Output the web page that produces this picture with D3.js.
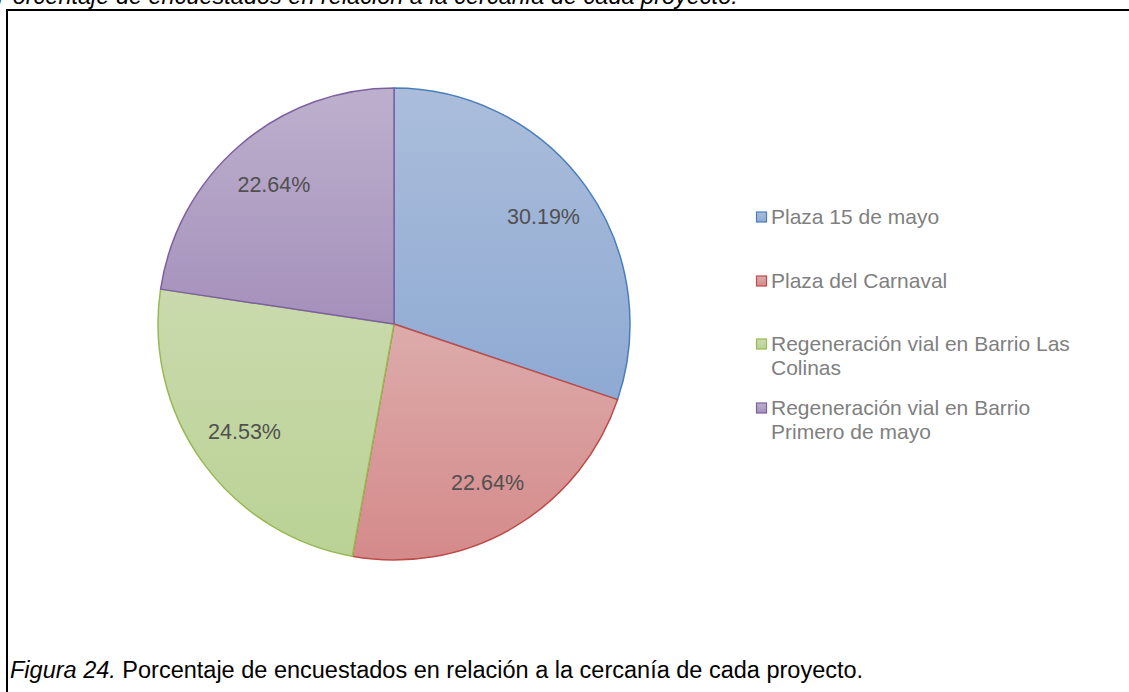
<!DOCTYPE html>
<html>
<head>
<meta charset="utf-8">
<script src="https://cdn.jsdelivr.net/npm/d3@7"></script>
<style>
  body { margin: 0; background: #fff; }
  svg text { font-family: "Liberation Sans", Arial, sans-serif; }
</style>
</head>
<body>
<div id="chart"></div>
<script>
// data
var categories = ["Plaza 15 de mayo", "Plaza del Carnaval", "Regeneración vial en Barrio Las Colinas", "Regeneración vial en Barrio Primero de mayo"];
var values = [30.19, 22.64, 24.53, 22.64];
var legendLines = [["Plaza 15 de mayo"], ["Plaza del Carnaval"], ["Regeneración vial en Barrio Las", "Colinas"], ["Regeneración vial en Barrio", "Primero de mayo"]];

var colorsTop = ["#abbddb", "#ddabab", "#cadaad", "#bdb0cd"];
var colorsBottom = ["#8eaad3", "#d58a8a", "#bad295", "#a590bb"];
var strokes = ["#4a7ebb", "#be4b48", "#98b954", "#7d60a0"];

var width = 1129, height = 692;
var cx = 394, cy = 324, radius = 236;

var svg = d3.select("#chart").append("svg")
  .attr("width", width)
  .attr("height", height);

// gradients, one for each slice
var defs = svg.append("defs");
categories.forEach(function(c, i) {
  var g = defs.append("linearGradient")
    .attr("id", "grad" + i)
    .attr("x1", 0).attr("y1", 0).attr("x2", 0).attr("y2", 1);
  g.append("stop").attr("offset", "0%").attr("stop-color", colorsTop[i]);
  g.append("stop").attr("offset", "100%").attr("stop-color", colorsBottom[i]);
});

// title above the frame (cut off at the top, like the reference)
svg.append("text")
  .attr("x", -3)
  .attr("y", 4)
  .style("font-size", "23.5px")
  .style("font-style", "italic")
  .style("fill", "#000")
  .text("Porcentaje de encuestados en relación a la cercanía de cada proyecto.");

// frame
svg.append("rect")
  .attr("x", 7)
  .attr("y", 10)
  .attr("width", width + 20)
  .attr("height", height + 20)
  .style("fill", "none")
  .style("stroke", "#000")
  .style("stroke-width", "2px");

var pie = d3.pie().sort(null).value(function(d) { return d; });
var arc = d3.arc().innerRadius(0).outerRadius(radius);
var labelArc = d3.arc().innerRadius(184).outerRadius(184);

var g = svg.append("g").attr("transform", "translate(" + cx + "," + cy + ")");

var arcs = pie(values);

g.selectAll("path.slice")
  .data(arcs)
  .enter().append("path")
  .attr("class", "slice")
  .attr("d", arc)
  .style("fill", function(d, i) { return "url(#grad" + i + ")"; })
  .style("stroke", function(d, i) { return strokes[i]; })
  .style("stroke-width", "1.5px")
  .style("stroke-linejoin", "round");

g.selectAll("text.label")
  .data(arcs)
  .enter().append("text")
  .attr("class", "label")
  .attr("transform", function(d) { return "translate(" + labelArc.centroid(d) + ")"; })
  .attr("dy", "0.35em")
  .style("text-anchor", "middle")
  .style("font-size", "21.5px")
  .style("fill", "#505050")
  .text(function(d) { return d.value.toFixed(2) + "%"; });

// legend
var legendY = [217, 281, 344, 408];
var legend = svg.selectAll("g.legend")
  .data(categories)
  .enter().append("g")
  .attr("class", "legend")
  .attr("transform", function(d, i) { return "translate(756," + legendY[i] + ")"; });

legend.append("rect")
  .attr("x", 0.5)
  .attr("y", -5)
  .attr("width", 10)
  .attr("height", 10)
  .style("fill", function(d, i) { return "url(#grad" + i + ")"; })
  .style("stroke", function(d, i) { return strokes[i]; })
  .style("stroke-width", "1.2px");

legend.each(function(d, i) {
  var t = d3.select(this).append("text")
    .attr("x", 15)
    .attr("y", 0)
    .style("font-size", "21px")
    .style("fill", "#7f7f7f");
  legendLines[i].forEach(function(line, j) {
    t.append("tspan").attr("x", 15).attr("dy", j === 0 ? "0.35em" : "24px").text(line);
  });
});

// caption
var cap = svg.append("text")
  .attr("x", 10)
  .attr("y", 678)
  .style("font-size", "23.5px")
  .style("fill", "#000");
cap.append("tspan").style("font-style", "italic").text("Figura 24.");
cap.append("tspan").text(" Porcentaje de encuestados en relación a la cercanía de cada proyecto.");
</script>
</body>
</html>
